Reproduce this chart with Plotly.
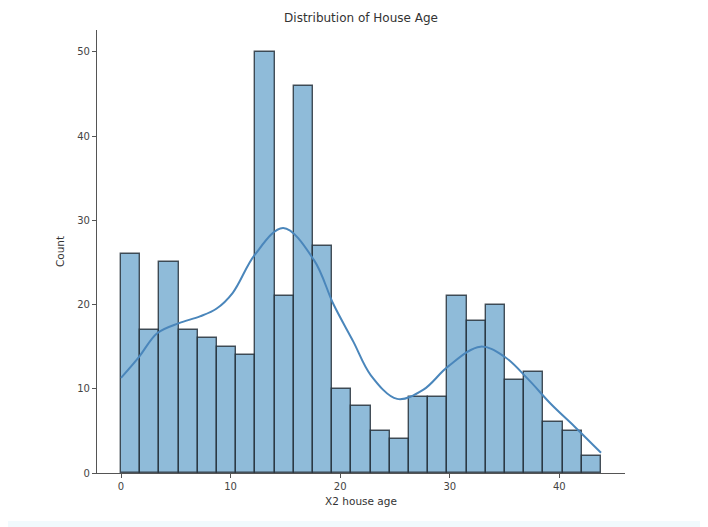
import numpy as np
import plotly.graph_objects as go

# Histogram data (25 bins spanning house age 0 .. 43.8)
bin_start = 0.0
bin_end = 43.8
counts = [26, 17, 25, 17, 16, 15, 14, 50, 21, 46, 27, 10, 8, 5, 4,
          9, 9, 21, 18, 20, 11, 12, 6, 5, 2]

# KDE curve (x = house age, y = count scale)
kde_x = [0.0, 1.65, 3.3, 5.3, 7.2, 8.7, 10.2, 12.2, 14.8, 17.6, 19.4, 21.2,
         22.8, 25.2, 27.6, 29.8, 32.8, 35.0, 37.1, 39.3, 41.4, 43.8]
kde_y = [11.3, 13.8, 16.6, 17.8, 18.6, 19.5, 21.4, 25.9, 29.1, 25.3, 20.0, 15.6,
         11.6, 8.8, 9.9, 12.6, 15.0, 13.8, 11.2, 8.1, 5.5, 2.4]

x_ticks = [0, 10, 20, 30, 40]
y_ticks = [0, 10, 20, 30, 40, 50]

n = len(counts)
edges = np.linspace(bin_start, bin_end, n + 1)
centers = (edges[:-1] + edges[1:]) / 2
width = edges[1] - edges[0]

fig = go.Figure()
fig.add_trace(go.Bar(
    x=centers, y=counts, width=width,
    marker=dict(color="rgba(31,119,180,0.5)",
                line=dict(color="rgba(40,50,60,0.85)", width=1.4)),
    showlegend=False,
))
fig.add_trace(go.Scatter(
    x=kde_x, y=kde_y, mode="lines",
    line=dict(color="#4a86bb", width=2, shape="spline", smoothing=1.0),
    showlegend=False,
))

# page offset of 8px (body margin) compensated in margins
L, R, T, B = 89, 91, 22, 62
W, H = 708, 527
pw, ph = W - L - R, H - T - B

font_family = "DejaVu Sans, sans-serif"
fig.update_layout(
    width=W, height=H,
    margin=dict(l=L, r=R, t=T, b=B, autoexpand=False),
    paper_bgcolor="white", plot_bgcolor="white",
    bargap=0,
    font=dict(family=font_family, size=10, color="#444"),
    title=dict(text="Distribution of House Age", x=(L + pw / 2) / W, xanchor="center",
               y=1 - 10 / H, yanchor="middle",
               font=dict(size=12, color="#333", family=font_family)),
    xaxis=dict(range=[-2.19, 45.99], tickvals=x_ticks, ticks="outside", ticklen=4,
               tickcolor="#555", showline=True, linecolor="#555", linewidth=1.2,
               showgrid=False, zeroline=False, automargin=False,
               title=dict(text="X2 house age", standoff=6, font=dict(size=10.5, color="#333"))),
    yaxis=dict(range=[0, 52.6], tickvals=y_ticks, ticks="outside", ticklen=4,
               tickcolor="#555", showline=True, linecolor="#555", linewidth=1.2,
               showgrid=False, zeroline=False, automargin=False,
               title=dict(text="Count", standoff=10, font=dict(size=10.5, color="#333"))),
    shapes=[dict(type="rect", xref="paper", yref="paper", x0=-L / pw, x1=1 + R / pw,
                 y0=-B / ph, y1=-(B - 14) / ph, fillcolor="#f1fafd", line=dict(width=0),
                 layer="below")],
)

fig.write_html("out.html")
